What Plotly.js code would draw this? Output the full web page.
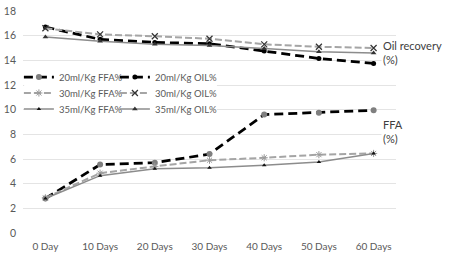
<!DOCTYPE html>
<html>
<head>
<meta charset="utf-8">
<script src="https://cdn.plot.ly/plotly-3.0.1.min.js"></script>
<style>html,body{margin:0;padding:0;background:#fff;}#chart{width:450px;height:258px;}</style>
</head>
<body>
<div id="chart"></div>
<script>
const days = ["0 Day", "10 Days", "20 Days", "30 Days", "40 Days", "50 Days", "60 Days"];
const ffa20 = [2.8, 5.55, 5.7, 6.4, 9.6, 9.75, 9.95];
const oil20 = [16.7, 15.7, 15.45, 15.35, 14.75, 14.15, 13.75];
const ffa30 = [2.85, 4.85, 5.4, 5.9, 6.1, 6.35, 6.45];
const oil30 = [16.6, 16.1, 15.95, 15.75, 15.3, 15.1, 15.0];
const ffa35 = [2.8, 4.65, 5.2, 5.3, 5.5, 5.75, 6.45];
const oil35 = [15.9, 15.55, 15.3, 15.2, 14.95, 14.7, 14.6];
const names = ["20ml/Kg FFA%", "20ml/Kg OIL%", "30ml/Kg FFA%", "30ml/Kg OIL%", "35ml/Kg FFA%", "35ml/Kg OIL%"];
const yTicks = [0, 2, 4, 6, 8, 10, 12, 14, 16, 18];

const blackLine = {color: '#000000', width: 2.75, dash: '9px,5px'};
const grayDash = {color: '#a5a5a5', width: 2, dash: '7px,3px'};
const graySolid = {color: '#8c8c8c', width: 1.5};
const colW = 51;

const traces = [
  {x: days, y: ffa20, name: names[0], legend: 'legend', legendwidth: colW, mode: 'lines+markers', line: blackLine,
   marker: {symbol: 'circle', size: 6, color: '#7f7f7f'}},
  {x: days, y: oil20, name: names[1], legend: 'legend', mode: 'lines+markers', line: blackLine,
   marker: {symbol: 'circle', size: 5, color: '#000000'}},
  {x: days, y: ffa30, name: names[2], legend: 'legend2', legendwidth: colW, mode: 'lines+markers', line: grayDash,
   marker: {symbol: 'asterisk-open', size: 6, color: '#9a9a9a', line: {width: 1, color: '#9a9a9a'}}},
  {x: days, y: oil30, name: names[3], legend: 'legend2', mode: 'lines+markers', line: grayDash,
   marker: {symbol: 'x-thin-open', size: 6, color: '#333333', line: {width: 1.2, color: '#333333'}}},
  {x: days, y: ffa35, name: names[4], legend: 'legend3', legendwidth: colW, mode: 'lines+markers', line: graySolid,
   marker: {symbol: 'triangle-up', size: 4, color: '#111111'}},
  {x: days, y: oil35, name: names[5], legend: 'legend3', mode: 'lines+markers', line: graySolid,
   marker: {symbol: 'triangle-up', size: 5, color: '#333333'}}
];

const legendBase = {
  orientation: 'h', xref: 'paper', yref: 'paper', x: -0.011, xanchor: 'left', yanchor: 'top',
  bgcolor: 'rgba(0,0,0,0)', borderwidth: 0,
  font: {family: 'Lato, sans-serif', size: 9.5, color: '#595959'}, itemwidth: 30,
  traceorder: 'normal'
};

const layout = {
  width: 450, height: 258,
  margin: {l: 23, r: 54, t: 11, b: 25, pad: 0},
  paper_bgcolor: '#ffffff', plot_bgcolor: '#ffffff',
  font: {family: 'Lato, sans-serif', size: 10, color: '#595959'},
  showlegend: true,
  xaxis: {type: 'category', showgrid: false, zeroline: false, showline: false, ticks: '',
    tickfont: {family: 'Lato, sans-serif', size: 10, color: '#595959'}, ticklabelstandoff: 6,
    fixedrange: true},
  yaxis: {range: [0, 18], tickvals: yTicks, showgrid: true, gridcolor: '#e4e4e4', gridwidth: 1,
    zeroline: false, showline: false, ticks: '', ticklabelstandoff: 6,
    tickfont: {family: 'Lato, sans-serif', size: 10.5, color: '#595959'}, fixedrange: true},
  legend: Object.assign({}, legendBase, {y: 0.768}),
  legend2: Object.assign({}, legendBase, {y: 0.696}),
  legend3: Object.assign({}, legendBase, {y: 0.624}),
  shapes: [{type: 'rect', xref: 'paper', yref: 'y', x0: 0.003, x1: 0.52, y0: 9.85, y1: 12.8,
    fillcolor: '#ffffff', line: {width: 0}, layer: 'above'}],
  annotations: [
    {text: 'Oil recovery<br>(%)', xref: 'paper', yref: 'paper', x: 0.96, y: 0.813,
     xanchor: 'left', yanchor: 'middle', align: 'left', showarrow: false, bgcolor: '#ffffff',
     font: {family: 'Lato, sans-serif', size: 11, color: '#404040'}},
    {text: 'FFA<br>(%)', xref: 'paper', yref: 'paper', x: 0.96, y: 0.455,
     xanchor: 'left', yanchor: 'middle', align: 'left', showarrow: false, bgcolor: '#ffffff',
     font: {family: 'Lato, sans-serif', size: 11, color: '#404040'}}
  ]
};

Plotly.newPlot('chart', traces, layout, {displayModeBar: false, staticPlot: true});
</script>
</body>
</html>
